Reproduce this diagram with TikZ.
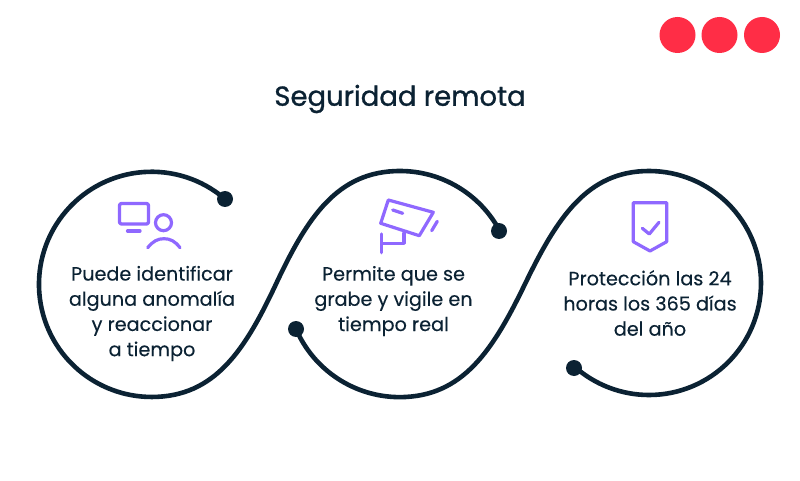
\documentclass[tikz,border=0pt]{standalone}
\usepackage{fontspec}
\setmainfont{Poppins}[FakeBold=0.25]
\newfontfamily\headfont{Poppins}[FakeBold=1.0]
\definecolor{navy}{HTML}{0B2233}
\definecolor{violet}{HTML}{8F68FF}
\definecolor{redd}{HTML}{FF2D46}
\tikzset{
  road/.style={draw=navy,line width=4.6pt,line cap=round},
  enddot/.style={circle,fill=navy,draw=none,minimum size=16pt,inner sep=0pt},
  reddot/.style={circle,fill=redd,draw=none,minimum size=36pt,inner sep=0pt},
  icon/.style={draw=violet,line width=3.2pt,line cap=round,line join=round},
  body/.style={text=navy,align=center,inner sep=0pt,font=\fontsize{19.2}{25.2}\selectfont},
  heading/.style={text=navy,inner sep=0pt,font=\headfont\fontsize{27.5}{32}\selectfont}
}
\begin{document}
\begin{tikzpicture}[x=1pt,y=-1pt]
\useasboundingbox (0,0) rectangle (800,481);
\fill[white] (0,0) rectangle (800,481);
\node[reddot] (r1) at (677.5,35) {};
\node[reddot] (r2) at (719.5,35) {};
\node[reddot] (r3) at (762,35) {};
\node[heading] (title) at (400,99) {Seguridad remota};
\node[enddot] (d1) at (225,199) {};
\node[enddot] (d2) at (499,231) {};
\node[enddot] (d3) at (296,329) {};
\node[enddot] (d4) at (574,368) {};
\draw[road] (d1.center) arc[start angle=-49.3,end angle=-270,radius=112.6]
  .. controls (215,397) and (245,350) .. (276,284)
  .. controls (307,218) and (337,171) .. (400,171)
  arc[start angle=-90,end angle=-28,radius=113] -- (d2.center);
\draw[road] (d3.center) arc[start angle=-203.4,end angle=-270,radius=113]
  .. controls (463,397) and (493,350) .. (525,284)
  .. controls (557,218) and (587,171) .. (649,171)
  arc[start angle=-90,end angle=132,radius=112] -- (d4.center);
\node[body] (t1) at (152,313.5) {Puede identificar\\alguna anomalía\\y reaccionar\\a tiempo};
\node[body] (t2) at (393.5,301) {Permite que se\\grabe y vigile en\\tiempo real};
\node[body] (t3) at (650,303) {Protección las 24\\horas los 365 días\\del año};
% monitor and person
\draw[icon,rounded corners=1.5pt] (119.5,203.5) rectangle (148.5,224);
\draw[icon] (127.5,231) -- (140,231);
\draw[icon] (163.5,222.7) circle[radius=8];
\draw[icon] (147.7,247.7) .. controls (153,241) and (158,238.7) .. (164,238.7) .. controls (170,238.7) and (175,241) .. (180,247.7);
% camera
\draw[icon] (388.3,200) -- (433.3,212.3) -- (419.3,235.7) -- (380.7,223.3) -- cycle;
\draw[icon] (392.7,210) -- (402.7,213.3);
\draw[icon] (437.3,221.3) -- (431.7,230.7);
\draw[icon] (404,233.3) -- (404,243.3) -- (381.7,243.3);
\draw[icon] (381.7,234) -- (381.7,252.7);
% shield
\draw[icon] (633.3,202.7) -- (666.7,202.7) -- (666.7,241.7) -- (650,251) -- (633.3,241.7) -- cycle;
\draw[icon] (642.3,228.3) -- (649.3,234) -- (659,222.3);
\end{tikzpicture}
\end{document}
